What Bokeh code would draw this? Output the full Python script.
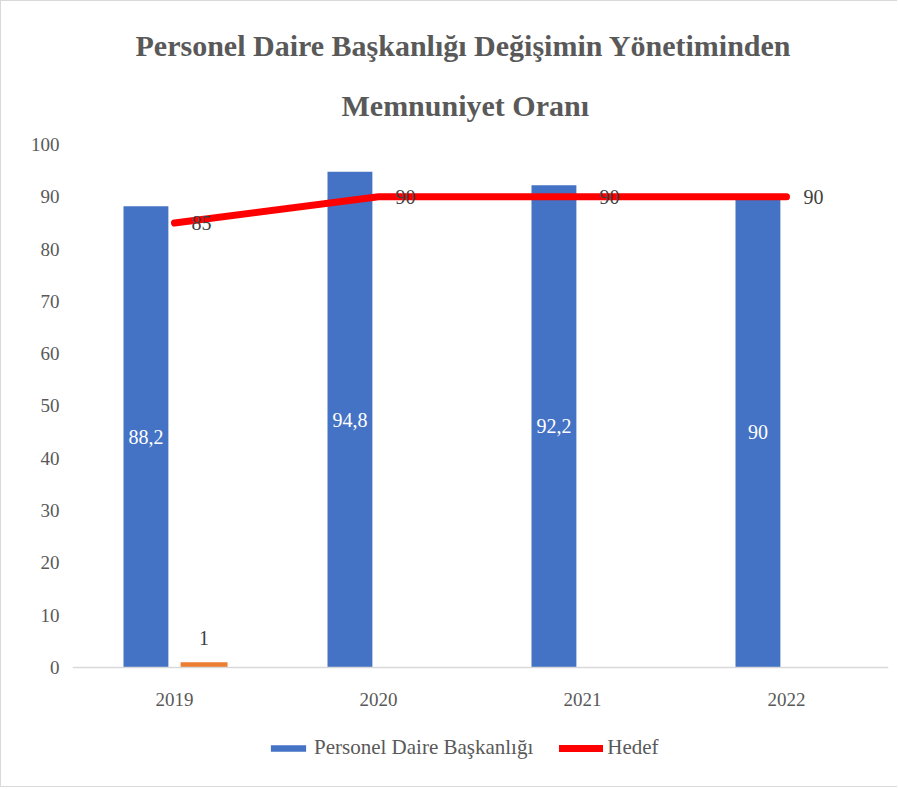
from bokeh.plotting import figure
from bokeh.models import ColumnDataSource, Legend, LegendItem, FactorRange, Title
from bokeh.transform import dodge
from bokeh.core.properties import value
from bokeh.embed import file_html
from bokeh.resources import INLINE

# ---- data ----
years = ["2019", "2020", "2021", "2022"]
personel = [88.2, 94.8, 92.2, 90]
hedef = [85, 90, 90, 90]
orange_years = ["2019"]
orange_values = [1]
y_ticks = [0, 10, 20, 30, 40, 50, 60, 70, 80, 90, 100]
title_lines = ["Personel Daire Başkanlığı Değişimin Yönetiminden", "Memnuniyet Oranı"]
series_names = ["Personel Daire Başkanlığı", "Hedef"]


def fmt(v):
    return ("%g" % v).replace(".", ",")


FONT = "'Liberation Serif', serif"
GRAY = "#595959"

# frame covers the area below the axis too, so that the legend sits inside it
p = figure(x_range=FactorRange(*years), y_range=(-23.16, 100),
           width=897, height=787, output_backend="svg", toolbar_location=None,
           min_border_left=71, min_border_right=10, min_border_top=143, min_border_bottom=0)
p.styles = {"border-left": "1px solid #d9d9d9", "border-top": "1px solid #d9d9d9",
            "border-bottom": "1px solid #d9d9d9"}
p.outline_line_color = None
p.xgrid.visible = False
p.ygrid.visible = False

p.yaxis.ticker = y_ticks
p.yaxis.axis_line_color = None
p.yaxis.major_tick_line_color = None
p.yaxis.major_tick_out = 0
p.yaxis.major_tick_in = 0
p.yaxis.minor_tick_line_color = None
p.yaxis.major_label_standoff = 13
p.yaxis.major_label_text_font = FONT
p.yaxis.major_label_text_font_size = "19px"
p.yaxis.major_label_text_color = GRAY

p.xaxis.fixed_location = 0
p.xaxis.axis_line_color = "#d9d9d9"
p.xaxis.axis_line_width = 1.5
p.xaxis.major_tick_line_color = None
p.xaxis.major_tick_out = 0
p.xaxis.major_tick_in = 0
p.xaxis.minor_tick_line_color = None
p.xaxis.major_label_standoff = 26
p.xaxis.major_label_text_font = FONT
p.xaxis.major_label_text_font_size = "19px"
p.xaxis.major_label_text_color = GRAY

# blue bars
src = ColumnDataSource(dict(year=years, v=personel, half=[v / 2 for v in personel],
                            lab=[fmt(v) for v in personel]))
bars = p.vbar(x=dodge("year", -0.14, range=p.x_range), top="v", bottom=0, width=0.22, source=src,
              fill_color="#4472C4", line_color=None)
p.text(x=dodge("year", -0.14, range=p.x_range), y="half", text="lab", source=src,
       text_color="white", text_align="center", text_baseline="middle",
       text_font=value(FONT), text_font_size="20px")

# orange bar
osrc = ColumnDataSource(dict(year=orange_years, v=orange_values, lab=[fmt(v) for v in orange_values]))
p.vbar(x=dodge("year", 0.145, range=p.x_range), top="v", bottom=0, width=0.23, source=osrc,
       fill_color="#ED7D31", line_color=None)
p.text(x=dodge("year", 0.145, range=p.x_range), y="v", text="lab", source=osrc,
       text_color="#404040", text_align="center", text_baseline="middle", y_offset=-24,
       text_font=value(FONT), text_font_size="20px")

# target line
hsrc = ColumnDataSource(dict(year=years, h=hedef, lab=[fmt(v) for v in hedef]))
line = p.line(x="year", y="h", source=hsrc, line_color="#FF0000", line_width=7,
              line_cap="round", line_join="round")
p.text(x="year", y="h", text="lab", source=hsrc, x_offset=17,
       text_color="#404040", text_align="left", text_baseline="middle",
       text_font=value(FONT), text_font_size="20px")

# title (second line nearest to the plot, first line above it)
p.add_layout(Title(text=title_lines[1], align="left", offset=269, standoff=45,
                   text_font=FONT, text_font_size="30px", text_font_style="bold",
                   text_color=GRAY), "above")
p.add_layout(Title(text=title_lines[0], align="left", offset=63, standoff=6,
                   text_font=FONT, text_font_size="30px", text_font_style="bold",
                   text_color=GRAY), "above")

legend = Legend(items=[LegendItem(label=series_names[0], renderers=[bars]),
                       LegendItem(label=series_names[1], renderers=[line])],
                location=(194, 28), orientation="horizontal",
                glyph_width=44, glyph_height=8, label_standoff=4, spacing=26,
                padding=0, margin=0, border_line_color=None, background_fill_alpha=0,
                label_text_font=FONT, label_text_font_size="21px", label_text_color=GRAY)
p.add_layout(legend)

open("out.html", "w").write(file_html(p, INLINE))
